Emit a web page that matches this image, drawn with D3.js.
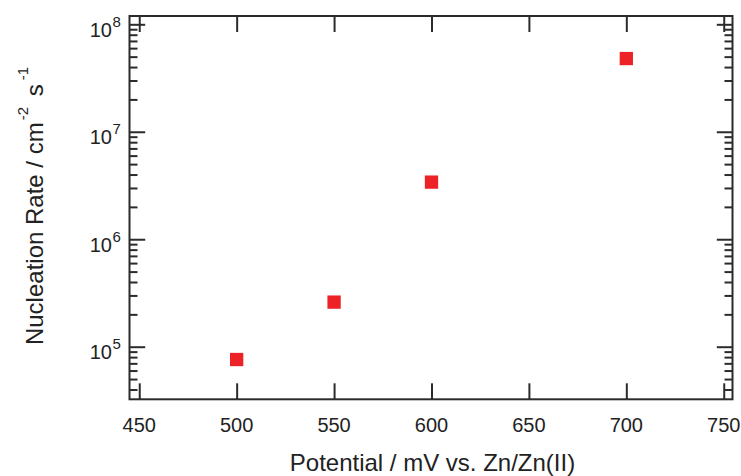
<!DOCTYPE html>
<html>
<head>
<meta charset="utf-8">
<script src="https://cdn.jsdelivr.net/npm/d3@7"></script>
<style>
  body { margin: 0; background: #fff; }
  svg { display: block; font-family: "Liberation Sans", Arial, sans-serif; }
  .axis path { display: none; }
  .axis line { stroke: #2b2b2b; stroke-width: 2; }
</style>
</head>
<body>
<div id="chart"></div>
<script>
// data
const potential = [500, 550, 600, 700];          // mV vs. Zn/Zn(II)
const nucleationRate = [7.6e4, 2.6e5, 3.4e6, 4.8e7]; // cm^-2 s^-1
const xTicks = [450, 500, 550, 600, 650, 700, 750];
const yExponents = [5, 6, 7, 8];

const width = 741, height = 476;
const plotLeft = 129.5, plotRight = 732.5, plotTop = 16, plotBottom = 399.3;

const svg = d3.select("#chart")
    .append("svg")
    .attr("width", width)
    .attr("height", height);

const x = d3.scaleLinear()
    .domain([445, 754.5])
    .range([plotLeft, plotRight]);

const y = d3.scaleLog()
    .domain([Math.pow(10, 4.5106), Math.pow(10, 8.0772)])
    .range([plotBottom, plotTop]);

const majorY = yExponents.map(e => Math.pow(10, e));
const minorY = y.ticks().filter(v => !majorY.some(m => Math.abs(m - v) / m < 1e-9));

// bottom + top x ticks (pointing inward)
svg.append("g").attr("class", "axis")
    .attr("transform", `translate(0,${plotBottom})`)
    .call(d3.axisBottom(x).tickValues(xTicks).tickSize(-16).tickFormat(""));
svg.append("g").attr("class", "axis")
    .attr("transform", `translate(0,${plotTop})`)
    .call(d3.axisTop(x).tickValues(xTicks).tickSize(-16).tickFormat(""));

// left + right y ticks, major and minor
[[d3.axisLeft, plotLeft], [d3.axisRight, plotRight]].forEach(([ax, pos]) => {
    svg.append("g").attr("class", "axis")
        .attr("transform", `translate(${pos},0)`)
        .call(ax(y).tickValues(majorY).tickSize(-15.7).tickFormat(""));
    svg.append("g").attr("class", "axis")
        .attr("transform", `translate(${pos},0)`)
        .call(ax(y).tickValues(minorY).tickSize(-8).tickFormat(""));
});

// frame
svg.append("rect")
    .attr("x", plotLeft).attr("y", plotTop)
    .attr("width", plotRight - plotLeft).attr("height", plotBottom - plotTop)
    .attr("fill", "none")
    .attr("stroke", "#2b2b2b")
    .attr("stroke-width", 2);

// x tick labels
svg.append("g").selectAll("text")
    .data(xTicks)
    .join("text")
    .attr("x", d => x(d))
    .attr("y", 432)
    .attr("text-anchor", "middle")
    .attr("font-size", 20)
    .attr("fill", "#222")
    .text(d => d);

// y tick labels 10^n
const yl = svg.append("g").selectAll("g")
    .data(yExponents)
    .join("g");
yl.append("text")
    .attr("x", 112)
    .attr("y", d => y(Math.pow(10, d)) + 12.5)
    .attr("text-anchor", "end")
    .attr("font-size", 20)
    .attr("fill", "#222")
    .text("10");
yl.append("text")
    .attr("x", 112.5)
    .attr("y", d => y(Math.pow(10, d)) + 2.4)
    .attr("font-size", 15)
    .attr("fill", "#222")
    .text(d => d);

// data squares
const sq = 13.3;
svg.append("g").selectAll("rect")
    .data(potential)
    .join("rect")
    .attr("x", (d, i) => x(d) - sq / 2)
    .attr("y", (d, i) => y(nucleationRate[i]) - sq / 2)
    .attr("width", sq)
    .attr("height", sq)
    .attr("fill", "#ec2227");

// axis titles
svg.append("text")
    .attr("x", 432.5)
    .attr("y", 471)
    .attr("text-anchor", "middle")
    .attr("font-size", 24)
    .attr("fill", "#222")
    .text("Potential / mV vs. Zn/Zn(II)");

const yt = svg.append("text")
    .attr("transform", "translate(43,206) rotate(-90)")
    .attr("text-anchor", "middle")
    .attr("font-size", 24)
    .attr("fill", "#222");
yt.append("tspan").text("Nucleation Rate / cm");
yt.append("tspan").attr("font-size", 15).attr("dx", 2).attr("dy", -15).text("-2");
yt.append("tspan").attr("dx", 4).attr("dy", 15).text(" s");
yt.append("tspan").attr("font-size", 15).attr("dx", 4).attr("dy", -15).text("-1");
</script>
</body>
</html>
